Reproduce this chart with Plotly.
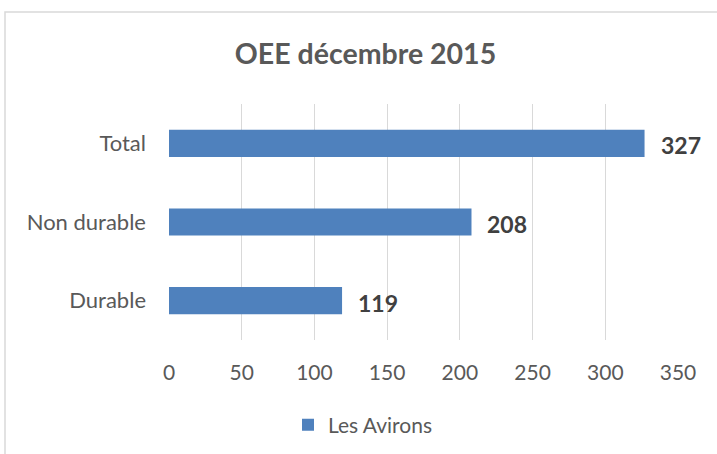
import plotly.graph_objects as go

categories = ["Durable", "Non durable", "Total"]
values = [119, 208, 327]
series_name = "Les Avirons"
x_ticks = [0, 50, 100, 150, 200, 250, 300, 350]

W, H = 717, 454
L, R, T, B = 169, 39, 104, 114
pw, ph = W - L - R, H - T - B

def px_x(px):
    return (px - L) / pw

def px_y(py):
    return (H - B - py) / ph

font_family = "Lato, 'Open Sans', sans-serif"
grey = "#595959"

fig = go.Figure()
fig.add_trace(go.Bar(
    y=categories, x=values, orientation="h", name=series_name,
    marker=dict(color="#4F81BD", line=dict(width=0)),
    showlegend=True,
))

for c, v in zip(categories, values):
    fig.add_annotation(x=v, y=c, text=f"<b>{v}</b>", showarrow=False,
                       xanchor="left", xshift=14, yshift=-2,
                       font=dict(family=font_family, size=23, color="#404040"))

fig.add_shape(type="rect", xref="paper", yref="paper",
              x0=px_x(5), x1=px_x(760), y0=px_y(500), y1=px_y(12),
              line=dict(color="#D9D9D9", width=1.5), fillcolor="rgba(0,0,0,0)",
              layer="below")

fig.update_layout(
    width=W, height=H,
    margin=dict(l=L, r=R, t=T, b=B, autoexpand=False),
    paper_bgcolor="white", plot_bgcolor="white",
    bargap=0.655,
    title=dict(text="<b>OEE décembre 2015</b>", x=365.5 / W, xanchor="center",
               xref="container", yref="container", y=1 - 54 / H, yanchor="middle",
               font=dict(family=font_family, size=28.5, color=grey)),
    xaxis=dict(range=[0, 350], tickvals=x_ticks, showgrid=True, gridcolor="#D9D9D9",
               gridwidth=1.3, zeroline=False, showline=False, ticks="",
               tickfont=dict(family=font_family, size=21, color=grey),
               ticklabelstandoff=18),
    yaxis=dict(showgrid=False, zeroline=False, showline=False, ticks="",
               tickfont=dict(family=font_family, size=22, color=grey),
               ticklabelstandoff=22),
    legend=dict(orientation="h", x=px_x(288), xanchor="left", y=px_y(425), yanchor="middle",
                font=dict(family=font_family, size=21, color=grey),
                itemwidth=30, tracegroupgap=0),
)

fig.write_html("out.html", config={"displayModeBar": False},
               post_script="document.body.style.margin='0';")
